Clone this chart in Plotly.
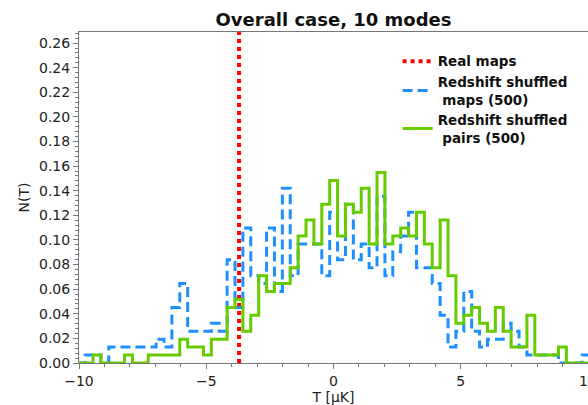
import numpy as np
import plotly.graph_objects as go

# Histogram binning (T in microkelvin)
bin_start = -10.07
bin_width = 0.31
n_samples = 500

# Counts per bin, 66 bins from bin_start
shuffled_maps_counts = [
    0, 1, 1, 0, 2, 2, 2, 2, 2, 2, 3, 2, 7, 10, 4, 4, 4, 5, 4, 13,
    7, 17, 11, 10, 17, 9, 22, 11, 15, 15, 15, 11, 19, 13, 20, 13, 15, 12, 21, 11,
    14, 16, 19, 12, 12, 10, 6, 2, 4, 9, 4, 2, 3, 3, 5, 4, 2, 1, 1, 1,
    1, 0, 0, 0, 1, 0,
]
shuffled_pairs_counts = [
    0, 0, 1, 0, 0, 0, 1, 0, 0, 1, 1, 1, 1, 3, 2, 2, 1, 3, 3, 7,
    8, 4, 6, 11, 9, 10, 10, 12, 16, 18, 15, 20, 23, 16, 20, 19, 22, 15, 24, 15,
    16, 17, 16, 19, 15, 12, 18, 11, 5, 6, 7, 5, 4, 7, 4, 2, 2, 6, 1, 1,
    1, 2, 0, 0, 0, 0,
]
real_maps_T = -3.71

x_ticks = [-10, -5, 0, 5, 10]
y_ticks = [round(0.02 * i, 2) for i in range(14)]

edges = bin_start + bin_width * np.arange(len(shuffled_pairs_counts) + 1)


def density(counts):
    n = np.asarray(counts, dtype=float) / (n_samples * bin_width)
    return np.append(n, n[-1])


fig = go.Figure()

fig.add_trace(go.Scatter(
    x=[real_maps_T, real_maps_T], y=[0, 0.3],
    mode="lines", name="<b>Real maps</b>",
    line=dict(color="#ff0000", width=4, dash="4px,4px"),
))
fig.add_trace(go.Scatter(
    x=edges, y=density(shuffled_maps_counts),
    mode="lines", line_shape="hv",
    name="<b>Redshift shuffled<br>\u00a0maps (500)</b>",
    line=dict(color="#1e8fff", width=3, dash="10px,5px"),
))
fig.add_trace(go.Scatter(
    x=edges, y=density(shuffled_pairs_counts),
    mode="lines", line_shape="hv",
    name="<b>Redshift shuffled<br>\u00a0pairs (500)</b>",
    line=dict(color="#66cc00", width=3),
))

axis_common = dict(
    showline=True, linecolor="#777", linewidth=1, mirror=True,
    ticks="outside", ticklen=5, tickcolor="#777",
    showgrid=False, zeroline=False, automargin=False,
    tickfont=dict(family="DejaVu Sans", size=14, color="#222"),
    ticklabeloverflow="allow",
)

fig.update_layout(
    width=588, height=405,
    margin=dict(l=79, r=0, t=32, b=42),
    paper_bgcolor="white", plot_bgcolor="white",
    title=dict(
        text="<b>Overall case, 10 modes</b>",
        x=(79 + 588) / 2 / 588, xanchor="center",
        y=1 - 20 / 405, yanchor="middle",
        font=dict(family="DejaVu Sans", size=18, color="#111"),
    ),
    showlegend=True,
    legend=dict(
        x=0.626, y=0.958, xanchor="left", yanchor="top",
        bgcolor="rgba(255,255,255,0)", borderwidth=0,
        font=dict(family="DejaVu Sans", size=13.5, color="#111"),
        itemwidth=30, tracegroupgap=3,
    ),
    xaxis=dict(
        range=[-10, 10], tickvals=x_ticks,
        minor=dict(dtick=1, ticks="outside", ticklen=3, tickcolor="#777"),
        title=dict(text="T [μK]", standoff=6,
                   font=dict(family="DejaVu Sans", size=14, color="#222")),
        **axis_common,
    ),
    yaxis=dict(
        range=[0, 0.269], tickvals=y_ticks, tickformat=".2f",
        minor=dict(dtick=0.004, ticks="outside", ticklen=3, tickcolor="#777"),
        title=dict(text="N(T)", standoff=6,
                   font=dict(family="DejaVu Sans", size=14, color="#222")),
        **axis_common,
    ),
)

fig.write_html("out.html")
